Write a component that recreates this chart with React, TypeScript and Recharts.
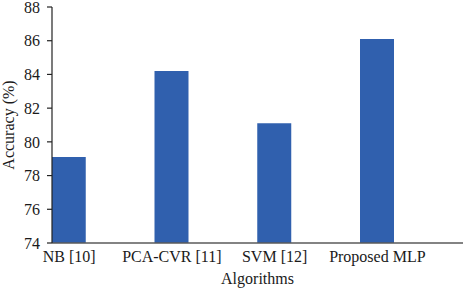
import React from "react";
import { BarChart, Bar, XAxis, YAxis, Label } from "recharts";

const categories = ["NB [10]", "PCA-CVR [11]", "SVM [12]", "Proposed MLP"];
const accuracy = [79.1, 84.2, 81.1, 86.1];
const yTicks = [74, 76, 78, 80, 82, 84, 86, 88];

const data = categories.map((name, i) => ({ idx: i, name, accuracy: accuracy[i] }));

const FONT = "'Liberation Serif', 'Times New Roman', serif";

export default function App() {
  return (
    <div style={{ position: "fixed", left: 0, top: 0, width: 463, height: 289, background: "#fff" }}>
      <BarChart
        width={463}
        height={289}
        data={data}
        margin={{ top: 7, right: 0, bottom: 0, left: 0 }}
      >
        <XAxis
          dataKey="idx"
          type="number"
          domain={[-1 / 6, 23 / 6]}
          ticks={[0, 1, 2, 3]}
          allowDataOverflow
          tickFormatter={(v: number) => categories[v]}
          height={46}
          tickLine={false}
          tickSize={0}
          tickMargin={8}
          axisLine={{ stroke: "#5a5a5a", strokeWidth: 1.5 }}
          tick={{ fill: "#1a1a1a", fontSize: 16, fontFamily: FONT }}
        >
          <Label
            value="Algorithms"
            position="insideBottom"
            offset={5}
            style={{ fill: "#1a1a1a", fontSize: 16, fontFamily: FONT }}
          />
        </XAxis>
        <YAxis
          width={52}
          domain={[74, 88]}
          ticks={yTicks}
          interval={0}
          tickSize={5}
          tickMargin={7}
          axisLine={{ stroke: "#222", strokeWidth: 1.2 }}
          tickLine={{ stroke: "#222", strokeWidth: 1.2 }}
          tick={{ fill: "#1a1a1a", fontSize: 16, fontFamily: FONT }}
        >
          <Label
            content={(props: any) => {
              const vb = props.viewBox || {};
              const cy = (vb.y ?? 0) + (vb.height ?? 0) / 2;
              const x = 14;
              return (
                <text
                  x={x}
                  y={cy}
                  transform={`rotate(-90, ${x}, ${cy})`}
                  textAnchor="middle"
                  fill="#1a1a1a"
                  fontSize={16}
                  fontFamily={FONT}
                >
                  Accuracy (%)
                </text>
              );
            }}
          />
        </YAxis>
        <Bar dataKey="accuracy" fill="#3060ae" barSize={34} isAnimationActive={false} />
      </BarChart>
    </div>
  );
}
